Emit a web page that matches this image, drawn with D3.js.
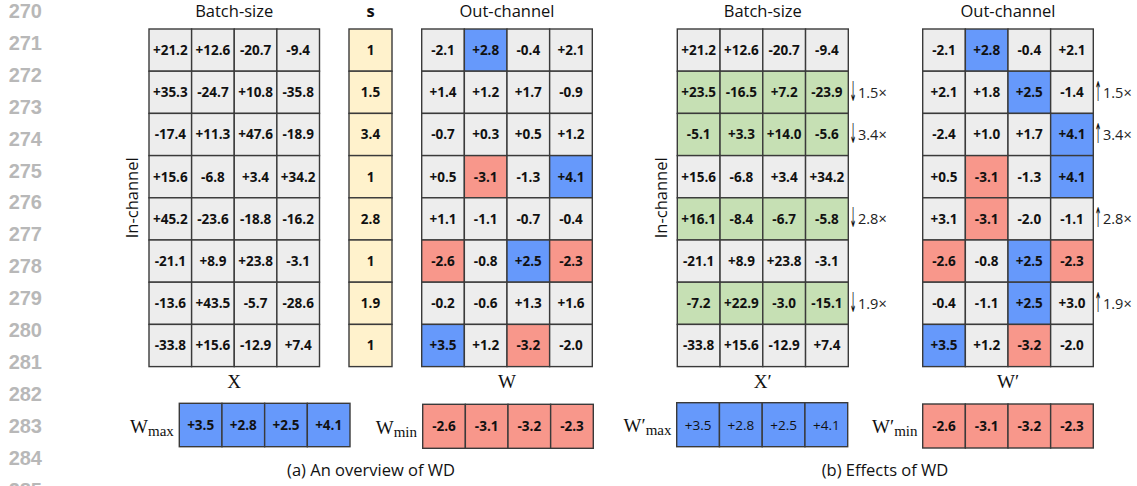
<!DOCTYPE html>
<html>
<head>
<meta charset="utf-8">
<script src="https://cdn.jsdelivr.net/npm/d3@7"></script>
<style>
  body { margin: 0; background: #fff; }
  svg { display: block; }
</style>
</head>
<body>
<svg id="fig" width="1137" height="486"></svg>
<script>
// ---------- data ----------
const lineNumbers = ["270","271","272","273","274","275","276","277","278","279","280","281","282","283","284","285"];

// activations X (in-channel rows × batch columns)
const activX = [
  [21.2, 12.6, -20.7, -9.4],
  [35.3, -24.7, 10.8, -35.8],
  [-17.4, 11.3, 47.6, -18.9],
  [15.6, -6.8, 3.4, 34.2],
  [45.2, -23.6, -18.8, -16.2],
  [-21.1, 8.9, 23.8, -3.1],
  [-13.6, 43.5, -5.7, -28.6],
  [-33.8, 15.6, -12.9, 7.4]
];
// per-channel scale s
const scaleS = [1, 1.5, 3.4, 1, 2.8, 1, 1.9, 1];
// weights W (in-channel rows × out-channel columns)
const weightW = [
  [-2.1, 2.8, -0.4, 2.1],
  [1.4, 1.2, 1.7, -0.9],
  [-0.7, 0.3, 0.5, 1.2],
  [0.5, -3.1, -1.3, 4.1],
  [1.1, -1.1, -0.7, -0.4],
  [-2.6, -0.8, 2.5, -2.3],
  [-0.2, -0.6, 1.3, 1.6],
  [3.5, 1.2, -3.2, -2.0]
];
// scaled activations X'
const activXp = [
  [21.2, 12.6, -20.7, -9.4],
  [23.5, -16.5, 7.2, -23.9],
  [-5.1, 3.3, 14.0, -5.6],
  [15.6, -6.8, 3.4, 34.2],
  [16.1, -8.4, -6.7, -5.8],
  [-21.1, 8.9, 23.8, -3.1],
  [-7.2, 22.9, -3.0, -15.1],
  [-33.8, 15.6, -12.9, 7.4]
];
// scaled weights W'
const weightWp = [
  [-2.1, 2.8, -0.4, 2.1],
  [2.1, 1.8, 2.5, -1.4],
  [-2.4, 1.0, 1.7, 4.1],
  [0.5, -3.1, -1.3, 4.1],
  [3.1, -3.1, -2.0, -1.1],
  [-2.6, -0.8, 2.5, -2.3],
  [-0.4, -1.1, 2.5, 3.0],
  [3.5, 1.2, -3.2, -2.0]
];
const wMax  = [3.5, 2.8, 2.5, 4.1];
const wMin  = [-2.6, -3.1, -3.2, -2.3];
const wpMax = [3.5, 2.8, 2.5, 4.1];
const wpMin = [-2.6, -3.1, -3.2, -2.3];

const captions = ["(a) An overview of WD", "(b) Effects of WD"];

// ---------- styling ----------
const C = {
  gray: "#ededed", blue: "#6699fb", red: "#f8978b", green: "#c6e0b4",
  yellow: "#fff2cc", stroke: "#3a3a3a", text: "#111", lineNo: "#b8b8b8"
};
const SANS = "'Open Sans', 'DejaVu Sans', sans-serif";
const SERIF = "'Liberation Serif', 'DejaVu Serif', serif";

const svg = d3.select("#fig");
// plain hyphen-minus for negative values, explicit plus for positives
const locale = d3.formatLocale({ decimal: ".", thousands: ",", grouping: [3], currency: ["", ""], minus: "-" });
const fmt = locale.format("+.1f");
const fmtS = locale.format("~g");

// line numbers on the left margin
const lnY = d3.scaleLinear().domain([0, lineNumbers.length - 1]).range([10.8, 489.3]);
svg.append("g").selectAll("text").data(lineNumbers).join("text")
  .attr("x", 42).attr("y", (d, i) => lnY(i)).attr("dy", "0.36em")
  .attr("text-anchor", "end")
  .style("font-family", "'Liberation Sans', Arial, sans-serif")
  .style("font-size", "20px").style("font-weight", 700).style("fill", C.lineNo)
  .text(d => d);

// generic grid of cells drawn through band scales
function drawGrid(values, box, fill, fmtFn, weight) {
  const nR = values.length, nC = values[0].length;
  const xs = d3.scaleBand().domain(d3.range(nC)).range([box.x0, box.x1]);
  const ys = d3.scaleBand().domain(d3.range(nR)).range([box.y0, box.y1]);
  const cells = values.flatMap((row, i) => row.map((v, j) => ({ v, i, j })));
  const g = svg.append("g");
  g.selectAll("rect").data(cells).join("rect")
    .attr("x", d => xs(d.j)).attr("y", d => ys(d.i))
    .attr("width", xs.bandwidth()).attr("height", ys.bandwidth())
    .attr("fill", d => fill(d.v, d.i, d.j))
    .attr("stroke", C.stroke).attr("stroke-width", 1.4);
  g.selectAll("text").data(cells).join("text")
    .attr("x", d => xs(d.j) + xs.bandwidth() / 2)
    .attr("y", d => ys(d.i) + ys.bandwidth() / 2)
    .attr("dy", "0.36em").attr("text-anchor", "middle")
    .style("font-family", SANS).style("font-size", "13.5px")
    .style("font-weight", weight || 700).style("fill", C.text)
    .text(d => fmtFn(d.v));
  return { xs, ys };
}

const TOP = 29, BOT = 366.6;
const wFill = (mx, mn) => (v, i, j) => v === mx[j] ? C.blue : (v === mn[j] ? C.red : C.gray);

const gX  = drawGrid(activX,  { x0: 149,   x1: 319.5,  y0: TOP, y1: BOT }, () => C.gray, fmt);
const gS  = drawGrid(scaleS.map(d => [d]), { x0: 349, x1: 392, y0: TOP, y1: BOT }, () => C.yellow, fmtS);
const gW  = drawGrid(weightW, { x0: 421.7, x1: 592.3,  y0: TOP, y1: BOT }, wFill(wMax, wMin), fmt);
const gXp = drawGrid(activXp, { x0: 677.3, x1: 848.3,  y0: TOP, y1: BOT },
  (v, i) => scaleS[i] !== 1 ? C.green : C.gray, fmt);
const gWp = drawGrid(weightWp, { x0: 922.7, x1: 1093.3, y0: TOP, y1: BOT }, wFill(wpMax, wpMin), fmt);

// max / min rows
drawGrid([wMax],  { x0: 179.3, x1: 350,    y0: 403.3, y1: 446.7 }, () => C.blue, fmt);
drawGrid([wMin],  { x0: 422.7, x1: 593.3,  y0: 404.3, y1: 448.3 }, () => C.red, fmt);
drawGrid([wpMax], { x0: 676.7, x1: 847.7,  y0: 402.7, y1: 446.7 }, () => C.blue, fmt, 400);
drawGrid([wpMin], { x0: 922.7, x1: 1093.3, y0: 404,   y1: 448 },   () => C.red, fmt);

// header and axis labels
function label(x, y, txt, opts = {}) {
  return svg.append("text").attr("x", x).attr("y", y)
    .attr("text-anchor", opts.anchor || "middle")
    .style("font-family", opts.family || SANS)
    .style("font-size", (opts.size || 16.5) + "px")
    .style("font-weight", opts.weight || 400)
    .style("fill", C.text).text(txt);
}
label(234.2, 17, "Batch-size");
label(370.5, 17, "s", { weight: 700 });
label(507, 17, "Out-channel");
label(762.8, 17, "Batch-size");
label(1008, 17, "Out-channel");

label(234.2, 388, "X", { family: SERIF, size: 19 });
label(507, 388, "W", { family: SERIF, size: 19 });
label(762.8, 388, "X\u2032", { family: SERIF, size: 19 });
label(1008, 388, "W\u2032", { family: SERIF, size: 19 });

[138, 667].forEach(x => {
  svg.append("text")
    .attr("transform", `translate(${x},${(TOP + BOT) / 2}) rotate(-90)`)
    .attr("text-anchor", "middle")
    .style("font-family", SANS).style("font-size", "16.5px").style("fill", C.text)
    .text("In-channel");
});

// W_max / W_min labels with subscripts
function subLabel(xRight, y, base, sub) {
  const t = svg.append("text").attr("x", xRight).attr("y", y)
    .attr("text-anchor", "end")
    .style("font-family", SERIF).style("fill", C.text);
  t.append("tspan").style("font-size", "19px").text(base);
  t.append("tspan").attr("dy", 3).style("font-size", "15px").text(sub);
}
subLabel(173.8, 432.5, "W", "max");
subLabel(417, 433.5, "W", "min");
subLabel(671.5, 432, "W\u2032", "max");
subLabel(917.5, 433, "W\u2032", "min");

// scaling arrows next to X' and W': a tall, narrow arrow glyph followed by the factor
const scaledRows = scaleS.map((s, i) => ({ s, i })).filter(d => d.s !== 1);
function arrowLabels(x, grid, arrow) {
  const g = svg.append("g").selectAll("g").data(scaledRows).join("g")
    .attr("transform", d => `translate(${x},${grid.ys(d.i) + grid.ys.bandwidth() / 2})`);
  g.append("text")
    .attr("transform", "translate(0,8.5) scale(0.62,1.95)")
    .style("font-family", "'DejaVu Sans', sans-serif").style("font-size", "14px")
    .style("fill", C.text).text(arrow);
  g.append("text").attr("x", 8.5).attr("dy", "0.36em")
    .style("font-family", SANS).style("font-size", "14.5px")
    .style("fill", "#222").text(d => fmtS(d.s) + "\u00d7");
}
arrowLabels(849.5, gXp, "\u2193");
arrowLabels(1094.5, gWp, "\u2191");

// sub-figure captions
label(371, 476, captions[0], { size: 16.5 });
label(885, 476, captions[1], { size: 16.5 });
</script>
</body>
</html>
